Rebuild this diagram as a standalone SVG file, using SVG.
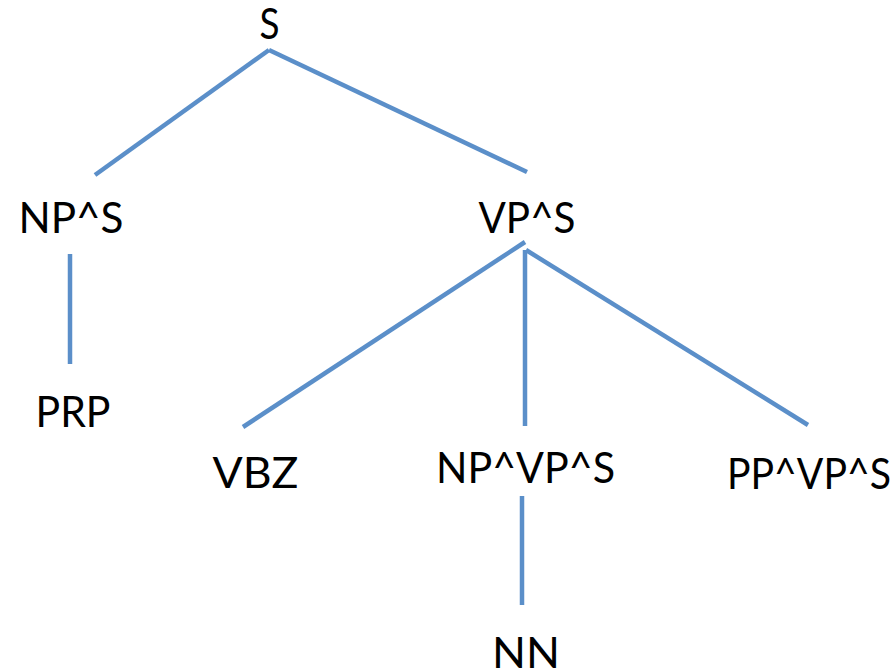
<svg xmlns="http://www.w3.org/2000/svg" width="895" height="671" viewBox="0 0 895 671">
  <style>
    .label { font-family: "Lato", "Liberation Sans", sans-serif; font-size: 43px; fill: #000000; text-anchor: middle; }
    .edge { stroke: #5b8fc9; stroke-width: 4.5; fill: none; stroke-linecap: butt; }
  </style>
  <rect x="0" y="0" width="895" height="671" fill="#ffffff"/>

  <!-- tree branches -->
  <g id="edges">
    <line class="edge" x1="269" y1="50" x2="95" y2="175"/>
    <line class="edge" x1="269" y1="50" x2="527" y2="172"/>
    <line class="edge" x1="70" y1="254" x2="70" y2="364"/>
    <line class="edge" x1="525" y1="242" x2="243" y2="427"/>
    <line class="edge" x1="525" y1="250" x2="525" y2="426"/>
    <line class="edge" x1="526" y1="250" x2="808" y2="425"/>
    <line class="edge" x1="522" y1="496" x2="522" y2="605"/>
  </g>

  <!-- tree nodes -->
  <g id="node-S"><text class="label" x="269.5" y="39" textLength="20" lengthAdjust="spacingAndGlyphs">S</text></g>
  <g id="node-NP-S"><text class="label" x="71" y="233" textLength="105" lengthAdjust="spacingAndGlyphs">NP^S</text></g>
  <g id="node-VP-S"><text class="label" x="527" y="233" textLength="97" lengthAdjust="spacingAndGlyphs">VP^S</text></g>
  <g id="node-PRP"><text class="label" x="73" y="427" textLength="75" lengthAdjust="spacingAndGlyphs">PRP</text></g>
  <g id="node-VBZ"><text class="label" x="255.5" y="488" textLength="86" lengthAdjust="spacingAndGlyphs">VBZ</text></g>
  <g id="node-NP-VP-S"><text class="label" x="525.5" y="483" textLength="179" lengthAdjust="spacingAndGlyphs">NP^VP^S</text></g>
  <g id="node-PP-VP-S"><text class="label" x="809" y="489" textLength="164" lengthAdjust="spacingAndGlyphs">PP^VP^S</text></g>
  <g id="node-NN"><text class="label" x="526" y="668" textLength="68" lengthAdjust="spacingAndGlyphs">NN</text></g>
</svg>
